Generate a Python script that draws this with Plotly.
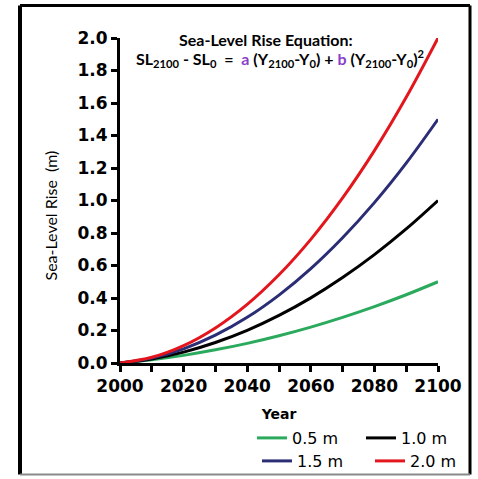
import plotly.graph_objects as go

years = [2000, 2010, 2020, 2030, 2040, 2050, 2060, 2070, 2080, 2090, 2100]
rise_05 = [0.0, 0.02, 0.047, 0.081, 0.121, 0.168, 0.221, 0.281, 0.347, 0.42, 0.50]
rise_10 = [0.0, 0.025, 0.067, 0.126, 0.201, 0.293, 0.401, 0.526, 0.667, 0.825, 1.0]
rise_15 = [0.0, 0.03, 0.087, 0.171, 0.281, 0.418, 0.581, 0.771, 0.987, 1.23, 1.5]
rise_20 = [0.0, 0.035, 0.107, 0.216, 0.361, 0.543, 0.761, 1.016, 1.307, 1.635, 2.0]
series_names = ["0.5 m", "1.0 m", "1.5 m", "2.0 m"]
series_colors = ["#2BAA5E", "#000000", "#2B2D75", "#E3161D"]
series_vals = [rise_05, rise_10, rise_15, rise_20]
series_legend = ["legend", "legend", "legend2", "legend2"]

W, H = 478, 479
ML, MR, MT, MB = 120, 40, 38, 116
PW, PH = W - ML - MR, H - MT - MB

def px_x(p):
    return (p - ML) / PW

def px_y(p):
    return (H - MB - p) / PH

fig = go.Figure()
for name, col, vals, lg in zip(series_names, series_colors, series_vals, series_legend):
    fig.add_trace(go.Scatter(x=years, y=vals, mode="lines", name=name,
                             line=dict(color=col, width=3, shape="spline"),
                             cliponaxis=False, legend=lg))

leg_font = dict(family="DejaVu Sans", size=16, color="black")
fig.update_layout(
    width=W, height=H,
    margin=dict(l=ML, r=MR, t=MT, b=MB, autoexpand=False),
    paper_bgcolor="white", plot_bgcolor="white",
    xaxis=dict(range=[2000, 2100], dtick=20, tick0=2000, showgrid=False,
               showline=True, linecolor="black", linewidth=3,
               ticks="outside", ticklen=6, tickwidth=3, tickcolor="black",
               minor=dict(dtick=10, ticks="outside", ticklen=6, tickwidth=3, tickcolor="black"),
               tickfont=dict(family="DejaVu Sans", size=17, color="black", weight="bold"),
               title=dict(text="<b>Year</b>", font=dict(family="DejaVu Sans", size=14, color="black"),
                          standoff=14),
               zeroline=False),
    yaxis=dict(range=[0, 2.0], dtick=0.2, tickformat=".1f", showgrid=False,
               showline=True, linecolor="black", linewidth=3,
               ticks="outside", ticklen=6, tickwidth=3, tickcolor="black",
               tickfont=dict(family="DejaVu Sans", size=17, color="black", weight="bold"),
               zeroline=False),
    legend=dict(orientation="h", x=px_x(252), y=px_y(421), xanchor="left", yanchor="top",
                entrywidth=64, entrywidthmode="pixels", bgcolor="rgba(0,0,0,0)",
                font=leg_font, tracegroupgap=0),
    legend2=dict(orientation="h", x=px_x(257), y=px_y(444), xanchor="left", yanchor="top",
                 entrywidth=68, entrywidthmode="pixels", bgcolor="rgba(0,0,0,0)",
                 font=leg_font, tracegroupgap=0),
    showlegend=True,
)

fig.add_annotation(text="Sea-Level Rise  (m)", xref="paper", yref="paper",
                   x=px_x(38), y=px_y(216), showarrow=False, textangle=-90,
                   font=dict(family="Lato", size=16, color="black"))

purple = "#8B3FC9"
fig.add_annotation(text="<b>Sea-Level Rise Equation:</b>", xref="paper", yref="paper",
                   x=px_x(266), y=px_y(28), showarrow=False,
                   font=dict(family="Lato", size=16, color="black"))
fig.add_annotation(
    text=("<b>SL<sub>2100</sub> - SL<sub>0</sub>  =  <span style='color:%s'>a</span> "
          "(Y<sub>2100</sub>-Y<sub>0</sub>) + <span style='color:%s'>b</span> "
          "(Y<sub>2100</sub>-Y<sub>0</sub>)<sup>2</sup></b>") % (purple, purple),
    xref="paper", yref="paper", x=px_x(280), y=px_y(45), showarrow=False,
    font=dict(family="Lato", size=16, color="black"))

# outer frame
fl, fr, ft, fb = px_x(20), px_x(470), px_y(5.5), px_y(474.5)
fig.add_shape(type="line", xref="paper", yref="paper", x0=fl, x1=fl, y0=fb, y1=ft,
              line=dict(color="black", width=4))
fig.add_shape(type="line", xref="paper", yref="paper", x0=fl, x1=fr, y0=ft, y1=ft,
              line=dict(color="black", width=3))
fig.add_shape(type="line", xref="paper", yref="paper", x0=fr, x1=fr, y0=fb, y1=ft,
              line=dict(color="black", width=3))
fig.add_shape(type="line", xref="paper", yref="paper", x0=fl, x1=fr, y0=fb, y1=fb,
              line=dict(color="#8a8a8a", width=2))

fig.write_html("out.html", config={"displayModeBar": False},
               post_script="document.body.style.margin='0';document.body.style.overflow='hidden';")
